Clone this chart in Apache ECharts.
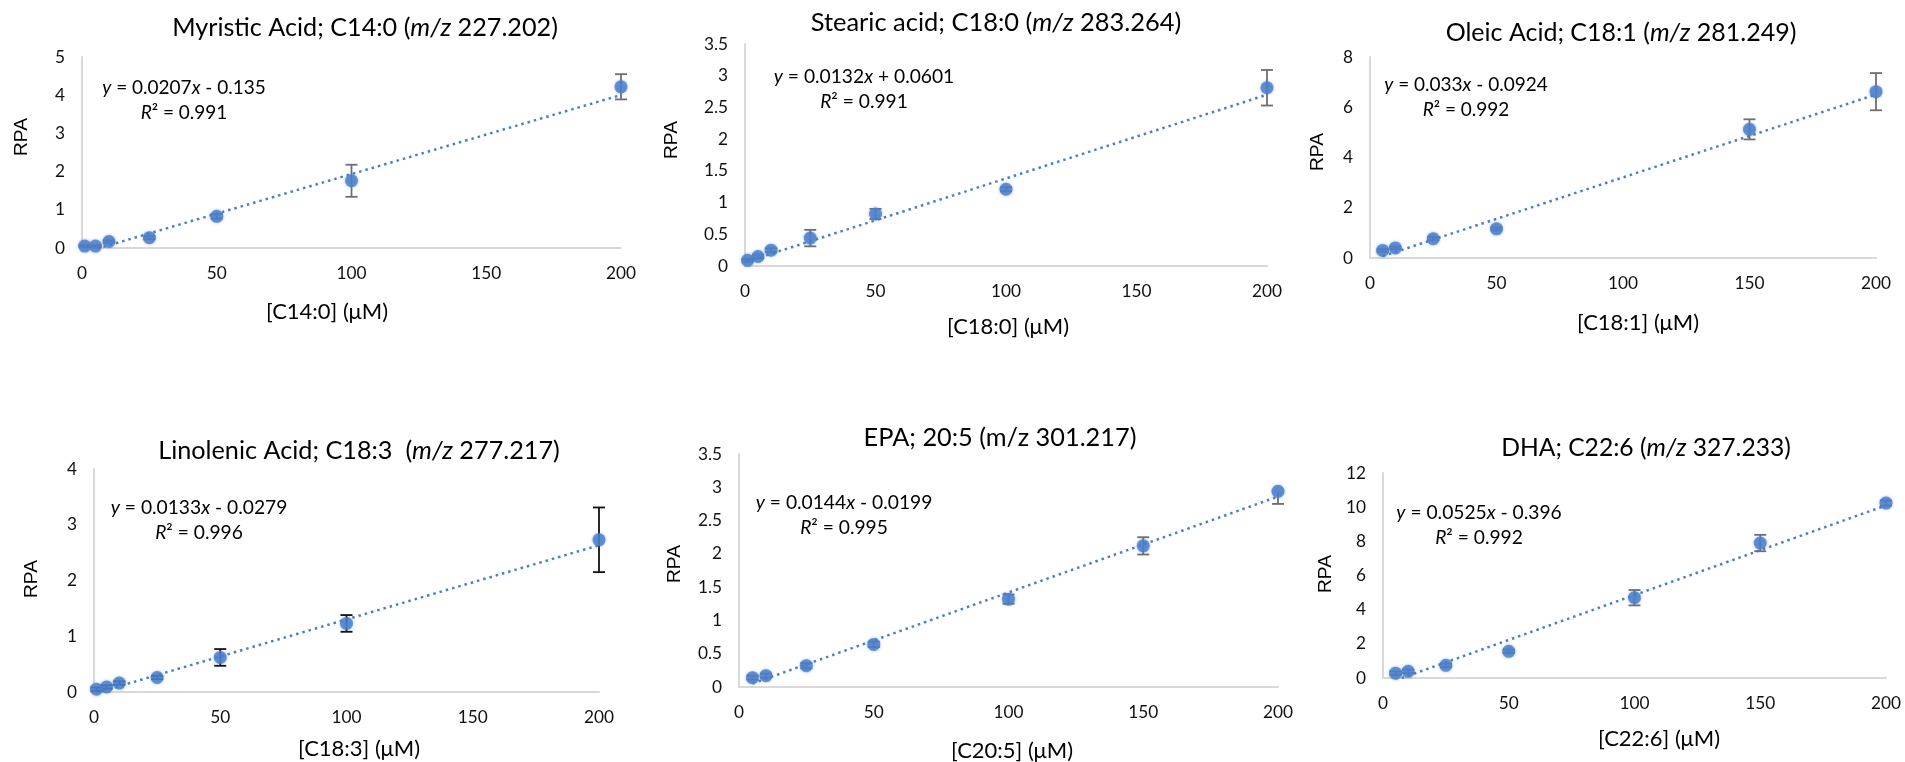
<!DOCTYPE html>
<html>
<head>
<meta charset="utf-8">
<script src="https://cdn.jsdelivr.net/npm/echarts@6/dist/echarts.min.js"></script>
<style>
html,body{margin:0;padding:0;background:#ffffff;}
#chart{width:1905px;height:762px;}
</style>
</head>
<body>
<div id="chart"></div>
<script>
// ---------- data ----------
const xTicks = [0, 50, 100, 150, 200];

const xC14 = [1, 5, 10, 25, 50, 100, 200];
const yC14 = [0.05, 0.05, 0.17, 0.27, 0.83, 1.76, 4.22];
const errC14 = [0.02, 0.02, 0.03, 0.04, 0.06, 0.42, 0.33];

const xC180 = [1, 5, 10, 25, 50, 100, 200];
const yC180 = [0.09, 0.15, 0.25, 0.44, 0.82, 1.21, 2.81];
const errC180 = [0.02, 0.03, 0.03, 0.13, 0.08, 0.03, 0.28];

const xC181 = [5, 10, 25, 50, 150, 200];
const yC181 = [0.30, 0.40, 0.77, 1.16, 5.12, 6.62];
const errC181 = [0.05, 0.05, 0.06, 0.06, 0.40, 0.74];

const xC183 = [1, 5, 10, 25, 50, 100, 200];
const yC183 = [0.05, 0.09, 0.16, 0.26, 0.62, 1.23, 2.73];
const errC183 = [0.03, 0.03, 0.03, 0.03, 0.15, 0.15, 0.58];

const xC205 = [5, 10, 25, 50, 100, 150, 200];
const yC205 = [0.14, 0.17, 0.32, 0.64, 1.32, 2.12, 2.94];
const errDnC205 = [0.03, 0.03, 0.04, 0.04, 0.07, 0.13, 0.19];
const errUpC205 = [0.03, 0.03, 0.04, 0.04, 0.07, 0.13, 0];

const xC226 = [5, 10, 25, 50, 100, 150, 200];
const yC226 = [0.28, 0.39, 0.74, 1.56, 4.70, 7.90, 10.24];
const errC226 = [0.10, 0.10, 0.10, 0.10, 0.45, 0.48, 0.15];

const slopes = [0.0207, 0.0132, 0.033, 0.0133, 0.0144, 0.0525];
const intercepts = [-0.135, 0.0601, -0.0924, -0.0279, -0.0199, -0.396];
const r2 = [0.991, 0.991, 0.992, 0.996, 0.995, 0.992];

const yMax = [5, 3.5, 8, 4, 3.5, 12];
const yStep = [1, 0.5, 2, 1, 0.5, 2];

const titles = [
  'Myristic Acid; C14:0 ({i|m/z} 227.202)',
  'Stearic acid; C18:0 ({i|m/z} 283.264)',
  'Oleic Acid; C18:1 ({i|m/z} 281.249)',
  'Linolenic Acid; C18:3  ({i|m/z} 277.217)',
  'EPA; 20:5 (m/z 301.217)',
  'DHA; C22:6 ({i|m/z} 327.233)'
];
const xNames = ['[C14:0] (\u03bcM)', '[C18:0] (\u03bcM)', '[C18:1] (\u03bcM)',
                '[C18:3] (\u03bcM)', '[C20:5] (\u03bcM)', '[C22:6] (\u03bcM)'];
const yName = 'RPA';

// ---------- layout (pixels) ----------
const grids = [
  {left: 82,   top: 57,  width: 539, height: 191},
  {left: 745,  top: 44,  width: 522, height: 222},
  {left: 1370, top: 57,  width: 506, height: 201},
  {left: 94,   top: 469, width: 505, height: 223},
  {left: 739,  top: 454, width: 539, height: 233},
  {left: 1383, top: 473, width: 503, height: 205}
];
const titlePos = [[365, 28], [996, 23], [1621, 33], [359, 451], [1000, 438], [1646, 448]];
const titleW = [388, 373, 353, 404, 273, 292];
const eqPos = [[184, 100], [864, 89], [1466, 97], [199, 520], [844, 515], [1479, 525]];
const eqW = [165, 182, 165, 178, 178, 167];
const xNamePos = [[327, 312], [1008, 327], [1638, 323], [359, 749], [1012, 751], [1659, 739]];
const xNameW = 122;
const yNamePos = [[22, 137], [672, 140], [1318, 152], [32, 579], [675, 564], [1326, 574]];
const yNameW = 38;
const tickW = 30; // width of the "200" tick label

const panels = [
  {x: xC14, y: yC14, dn: errC14, up: errC14, barColor: '#6f6f6f'},
  {x: xC180, y: yC180, dn: errC180, up: errC180, barColor: '#6f6f6f'},
  {x: xC181, y: yC181, dn: errC181, up: errC181, barColor: '#6f6f6f'},
  {x: xC183, y: yC183, dn: errC183, up: errC183, barColor: '#111111'},
  {x: xC205, y: yC205, dn: errDnC205, up: errUpC205, barColor: '#6f6f6f'},
  {x: xC226, y: yC226, dn: errC226, up: errC226, barColor: '#6f6f6f'}
];

const BLUE = '#4a7ecb';
const FONT = 'Lato, "Open Sans", sans-serif';
const RPAFONT = '"Liberation Sans", Arial, sans-serif';

// font sizes are fitted so that texts get the widths measured on the reference
const mctx = document.createElement('canvas').getContext('2d');
function measure(text, family, size) {
  mctx.font = size + 'px ' + family;
  return mctx.measureText(text.replace(/\{i\|([^}]*)\}/g, '$1')).width;
}
function fitSize(text, family, target) {
  return 100 * target / measure(text, family, 100);
}
function fmtNum(v) { return String(Math.abs(v)); }

const tickSize = fitSize('200', FONT, tickW);
const axisNameSize = fitSize(xNames[0], FONT, xNameW);
const rpaSize = fitSize(yName, RPAFONT, yNameW);

const option = {
  animation: false,
  backgroundColor: '#ffffff',
  grid: grids.map(g => Object.assign({containLabel: false}, g)),
  xAxis: [], yAxis: [], series: [], graphic: []
};

panels.forEach((p, i) => {
  option.xAxis.push({
    type: 'value', gridIndex: i, min: xTicks[0], max: xTicks[xTicks.length - 1],
    interval: xTicks[1] - xTicks[0],
    axisLine: {show: true, onZero: false, lineStyle: {color: '#d9d9d9', width: 2}},
    axisTick: {show: false}, splitLine: {show: false},
    axisLabel: {margin: 17, color: '#111', fontSize: tickSize, fontFamily: FONT}
  });
  option.yAxis.push({
    type: 'value', gridIndex: i, min: 0, max: yMax[i], interval: yStep[i],
    axisLine: {show: true, lineStyle: {color: '#d9d9d9', width: 2}},
    axisTick: {show: false}, splitLine: {show: false},
    axisLabel: {margin: 17, color: '#111', fontSize: tickSize, fontFamily: FONT}
  });

  // trendline from the fitted equation, over the data range (clipped at the axis)
  const xmin = Math.min.apply(null, p.x), xmax = Math.max.apply(null, p.x);
  option.series.push({
    type: 'line', xAxisIndex: i, yAxisIndex: i, clip: true, z: 2,
    symbol: 'none', silent: true,
    lineStyle: {color: BLUE, width: 2.5, type: [2.5, 4], cap: 'butt'},
    data: [[xmin, slopes[i] * xmin + intercepts[i]], [xmax, slopes[i] * xmax + intercepts[i]]]
  });

  // error bars
  const barData = p.x.map((xv, k) => [xv, p.y[k] - p.dn[k], p.y[k] + p.up[k], p.y[k]]);
  option.series.push({
    type: 'custom', xAxisIndex: i, yAxisIndex: i, z: 3, silent: true,
    encode: {x: 0, y: [1, 2]},
    data: barData,
    renderItem: (params, api) => {
      const xv = api.value(0), lo = api.value(1), hi = api.value(2), yv = api.value(3);
      const pLo = api.coord([xv, lo]), pHi = api.coord([xv, hi]);
      const st = {stroke: p.barColor, lineWidth: 1.8};
      const cap = 6;
      const ch = [{type: 'line', shape: {x1: pLo[0], y1: pLo[1], x2: pHi[0], y2: pHi[1]}, style: st}];
      if (lo < yv) ch.push({type: 'line', shape: {x1: pLo[0] - cap, y1: pLo[1], x2: pLo[0] + cap, y2: pLo[1]}, style: st});
      if (hi > yv) ch.push({type: 'line', shape: {x1: pHi[0] - cap, y1: pHi[1], x2: pHi[0] + cap, y2: pHi[1]}, style: st});
      return {type: 'group', children: ch};
    }
  });

  // points
  option.series.push({
    type: 'scatter', xAxisIndex: i, yAxisIndex: i, z: 4, symbol: 'circle', symbolSize: 13,
    itemStyle: {color: BLUE, shadowBlur: 3, shadowColor: 'rgba(74,126,203,0.7)'},
    data: p.x.map((xv, k) => [xv, p.y[k]])
  });

  // title
  const ts = fitSize(titles[i], FONT, titleW[i]);
  option.graphic.push({
    type: 'text', x: titlePos[i][0], y: titlePos[i][1], silent: true,
    style: {
      text: titles[i], align: 'center', verticalAlign: 'middle',
      fontSize: ts, fontFamily: FONT, fill: '#000',
      rich: {i: {fontStyle: 'italic', fontSize: ts, fontFamily: FONT, fill: '#000'}}
    }
  });

  // equation + R²
  const line1 = '{i|y} = ' + slopes[i] + '{i|x} ' + (intercepts[i] < 0 ? '- ' : '+ ') + fmtNum(intercepts[i]);
  const eq = line1 + '\n{i|R}\u00b2 = ' + r2[i];
  const es = fitSize(line1, FONT, eqW[i]);
  option.graphic.push({
    type: 'text', x: eqPos[i][0], y: eqPos[i][1], silent: true,
    style: {
      text: eq, align: 'center', verticalAlign: 'middle',
      fontSize: es, fontFamily: FONT, fill: '#000', lineHeight: 25,
      rich: {i: {fontStyle: 'italic', fontSize: es, fontFamily: FONT, fill: '#000', lineHeight: 25}}
    }
  });

  // axis titles
  option.graphic.push({
    type: 'text', x: xNamePos[i][0], y: xNamePos[i][1], silent: true,
    style: {text: xNames[i], align: 'center', verticalAlign: 'middle',
            fontSize: axisNameSize, fontFamily: FONT, fill: '#000'}
  });
  option.graphic.push({
    type: 'text', x: yNamePos[i][0], y: yNamePos[i][1], rotation: Math.PI / 2, silent: true,
    style: {text: yName, align: 'center', verticalAlign: 'middle',
            fontSize: rpaSize, fontFamily: RPAFONT, fill: '#000'}
  });
});

const chart = echarts.init(document.getElementById('chart'), null, {renderer: 'canvas'});
chart.setOption(option);
</script>
</body>
</html>
